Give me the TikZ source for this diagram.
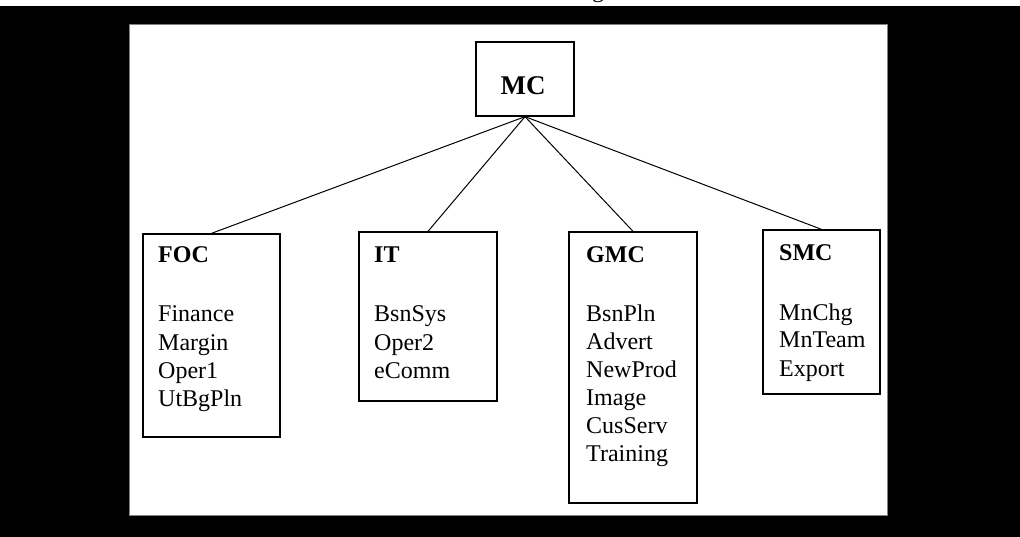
\documentclass[tikz,border=0pt]{standalone}
\usepackage{fontspec}
\setmainfont{Liberation Serif}
\begin{document}
\begin{tikzpicture}[x=1pt,y=-1pt,
  boxst/.style={draw=black,line width=1.3pt,rectangle,inner sep=0pt,fill=white},
  ttl/.style={anchor=base west,inner sep=0pt,font=\fontsize{24}{28}\selectfont\bfseries},
  itm/.style={anchor=base west,inner sep=0pt,font=\fontsize{24}{28}\selectfont},
  link/.style={draw=black,line width=1pt}]
\useasboundingbox (0,0) rectangle (1020,537);
% background
\fill[black] (0,0) rectangle (1020,537);
\fill[white] (0,0) rectangle (1020,6);
\node[itm] (cut) at (592,-2) {g};
\fill[white] (129,24) rectangle (887,515);
\draw[gray,line width=0.8pt] (129,24) rectangle (887,515);
% boxes
\node[boxst,minimum width=98pt,minimum height=74pt] (mc) at (525,79) {};
\node[boxst,minimum width=137pt,minimum height=203pt] (foc) at (211.5,335.5) {};
\node[boxst,minimum width=138pt,minimum height=169pt] (it) at (428,316.5) {};
\node[boxst,minimum width=128pt,minimum height=271pt] (gmc) at (633,367.5) {};
\node[boxst,minimum width=117pt,minimum height=164pt] (smc) at (821.5,312) {};
% texts
\node[anchor=base,inner sep=0pt,font=\fontsize{27}{30}\selectfont\bfseries] (mct) at (523,95) {MC};
\node[ttl] (foct) at (158,263) {FOC};
\foreach \t [count=\i] in {Finance,Margin,Oper1,UtBgPln}
  \node[itm] (foc\i) at (158,{322+28*(\i-1)}) {\t};
\node[ttl] (itt) at (374,263) {IT};
\foreach \t [count=\i] in {BsnSys,Oper2,eComm}
  \node[itm] (it\i) at (374,{322+28*(\i-1)}) {\t};
\node[ttl] (gmct) at (586,263) {GMC};
\foreach \t [count=\i] in {BsnPln,Advert,NewProd,Image,CusServ,Training}
  \node[itm] (gmc\i) at (586,{321+28*(\i-1)}) {\t};
\node[ttl] (smct) at (779,261) {SMC};
\foreach \t [count=\i] in {MnChg,MnTeam,Export}
  \node[itm] (smc\i) at (779,{320+28*(\i-1)}) {\t};
% connectors
\draw[link] (mc.south) -- (foc.north);
\draw[link] (mc.south) -- (it.north);
\draw[link] (mc.south) -- (gmc.north);
\draw[link] (mc.south) -- (smc.north);
\end{tikzpicture}
\end{document}
